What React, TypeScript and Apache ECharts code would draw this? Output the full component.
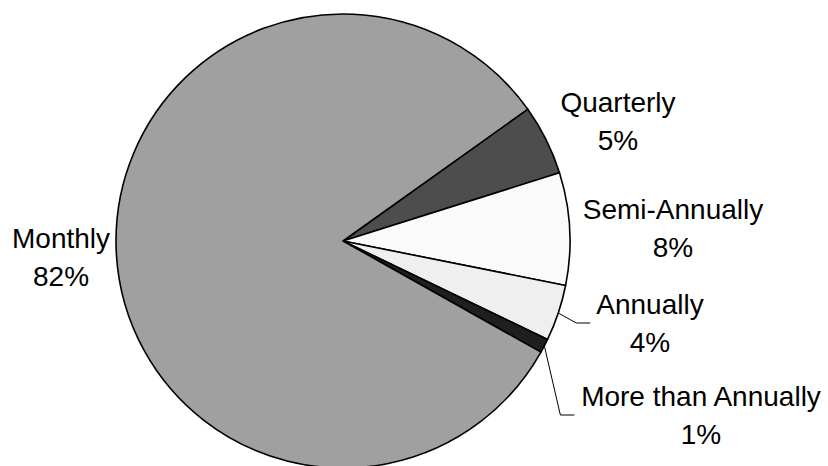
import React, { useEffect, useRef } from "react";
import * as echarts from "echarts";

const categories = ["Quarterly", "Semi-Annually", "Annually", "More than Annually", "Monthly"];
const shares = [5, 8, 4, 1, 82];
const sliceColors = ["#4d4d4d", "#fafafa", "#efefef", "#1f1f1f", "#a0a0a0"];
const showLeader = [false, false, true, true, false];
// label block centres (layout styling)
const labelCenters: [number, number][] = [
  [618, 121],
  [673, 228],
  [650, 323],
  [701, 415],
  [61, 257],
];

export default function App() {
  const ref = useRef<HTMLDivElement>(null);
  useEffect(() => {
    if (!ref.current) return;
    const chart = echarts.init(ref.current, null, { renderer: "svg" });
    chart.setOption({
      animation: false,
      backgroundColor: "#ffffff",
      series: [
        {
          type: "pie",
          center: [343, 241],
          radius: 227,
          startAngle: 35.5,
          clockwise: true,
          avoidLabelOverlap: false,
          itemStyle: { borderColor: "#000000", borderWidth: 1.6 },
          label: {
            show: true,
            position: "outside",
            color: "#000000",
            fontFamily: "'Liberation Sans', Arial, sans-serif",
            fontSize: 28,
            lineHeight: 38,
            align: "center",
            formatter: (p: any) => `${p.name}\n${p.value}%`,
          },
          labelLine: {
            show: true,
            length: 10,
            length2: 10,
            smooth: false,
            lineStyle: { color: "#000000", width: 1 },
          },
          labelLayout: (params: any) => {
            const i = params.dataIndex;
            const [cx, cy] = labelCenters[i];
            const w = params.labelRect.width;
            const res: any = { x: cx, y: cy, align: "center", verticalAlign: "middle" };
            if (showLeader[i] && params.labelLinePoints) {
              const start = params.labelLinePoints[0];
              const endX = cx - w / 2 - 6;
              res.labelLinePoints = [
                [start[0], start[1]],
                [endX - 14, cy],
                [endX, cy],
              ];
            }
            return res;
          },
          data: categories.map((name, i) => ({
            name,
            value: shares[i],
            itemStyle: { color: sliceColors[i] },
            labelLine: { show: showLeader[i] },
          })),
        },
      ],
    });
    return () => chart.dispose();
  }, []);
  return (
    <div
      ref={ref}
      style={{ position: "fixed", left: 0, top: 0, width: 828, height: 466, background: "#fff" }}
    />
  );
}
